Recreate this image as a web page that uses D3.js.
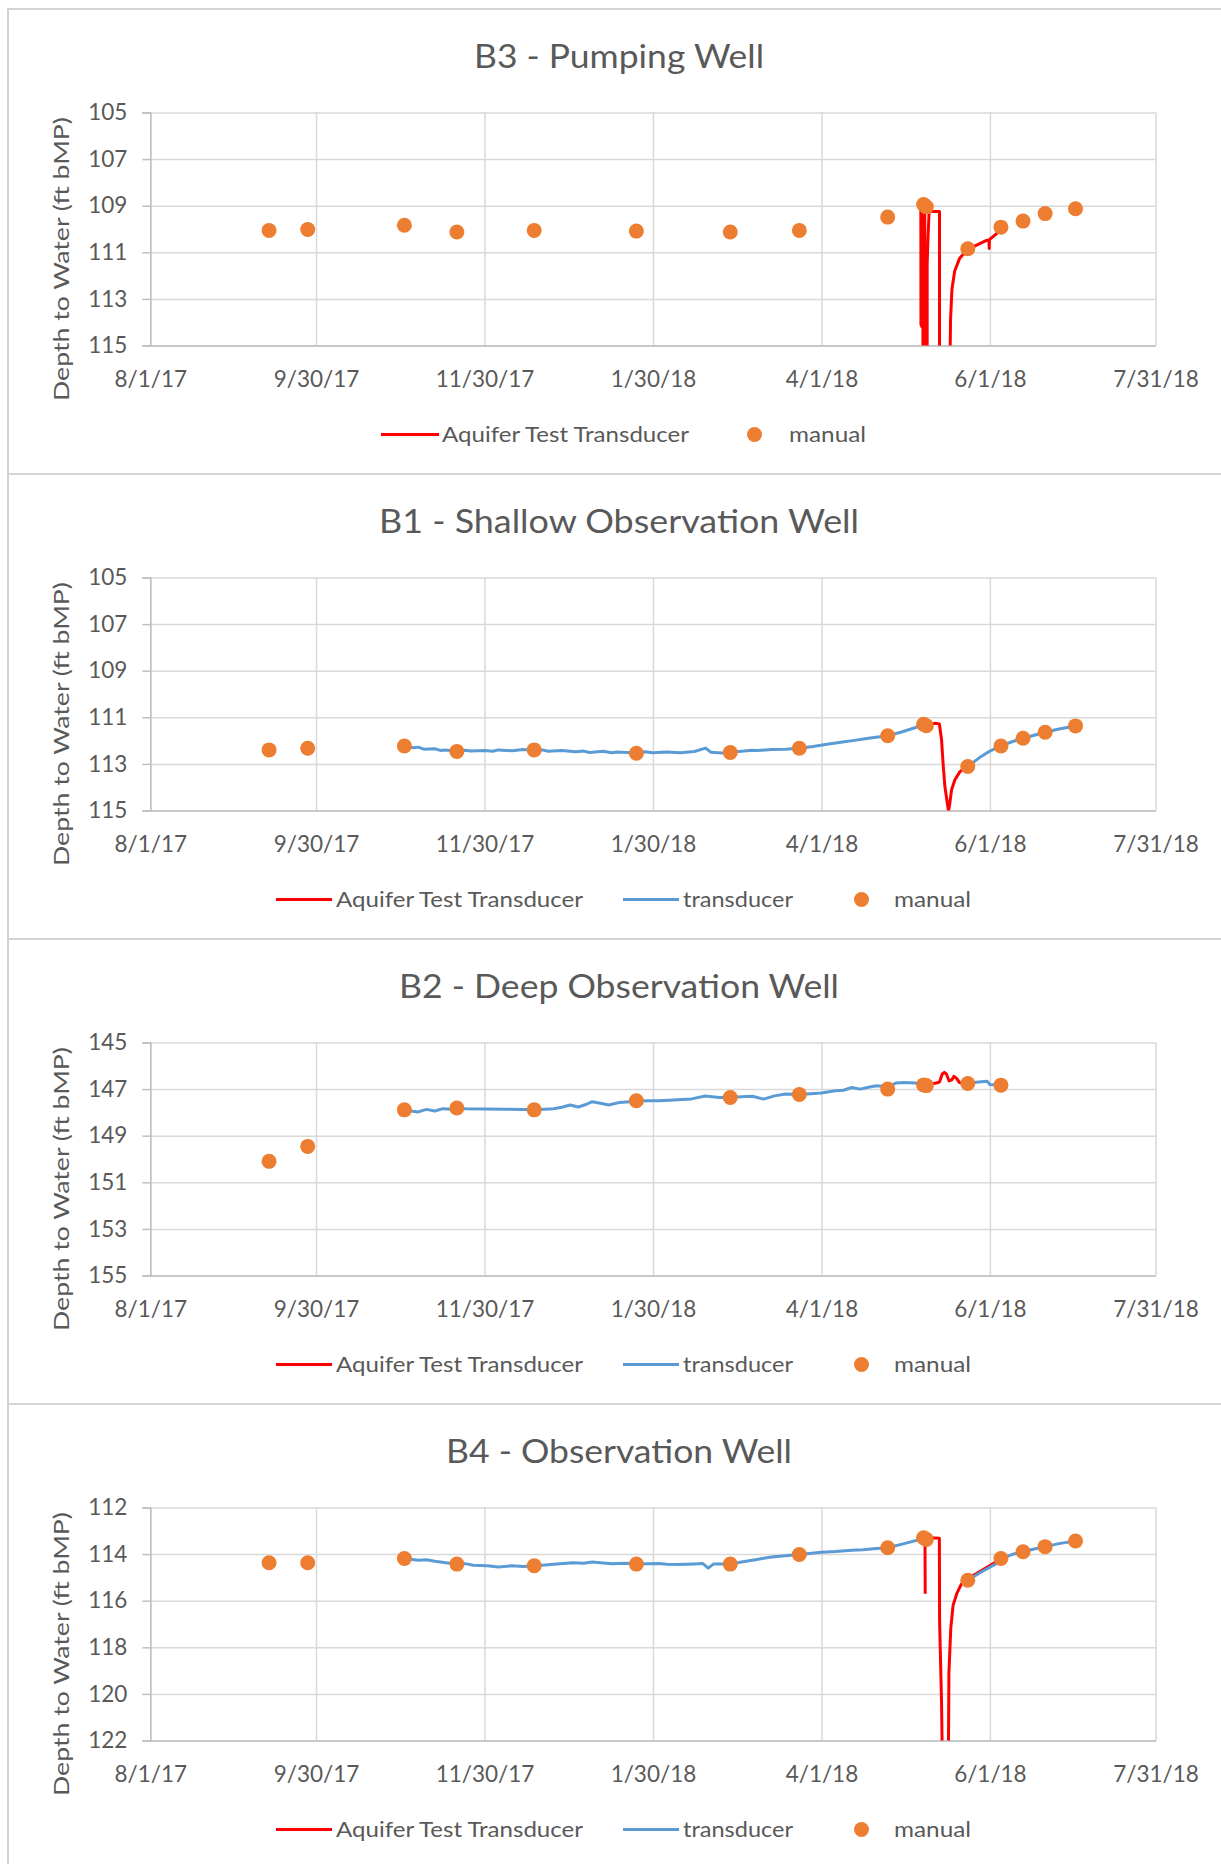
<!DOCTYPE html>
<html>
<head>
<meta charset="utf-8">
<script src="https://cdn.jsdelivr.net/npm/d3@7"></script>
<style>
  html, body { margin: 0; padding: 0; background: #fff; }
  svg { display: block; }
  text { font-family: Lato, "Open Sans", sans-serif; fill: #595959; }
</style>
</head>
<body>
<div id="vis"></div>
<script>
// ---- data ----
var xTickLabels = ["8/1/17", "9/30/17", "11/30/17", "1/30/18", "4/1/18", "6/1/18", "7/31/18"];

var b3Ticks = [105, 107, 109, 111, 113, 115];
var b1Ticks = [105, 107, 109, 111, 113, 115];
var b2Ticks = [145, 147, 149, 151, 153, 155];
var b4Ticks = [112, 114, 116, 118, 120, 122];

var manualDates = ["2017-09-13", "2017-09-27", "2017-11-01", "2017-11-20", "2017-12-18", "2018-01-24",
  "2018-02-27", "2018-03-24", "2018-04-25", "2018-05-08", "2018-05-09", "2018-05-24", "2018-06-05",
  "2018-06-13", "2018-06-21", "2018-07-02"];
var b3Manual = [110.06, 110.02, 109.84, 110.13, 110.06, 110.09, 110.13, 110.06, 109.49, 108.95, 109.05, 110.85, 109.92, 109.66, 109.34, 109.13];
var b1Manual = [112.40, 112.33, 112.23, 112.47, 112.40, 112.54, 112.51, 112.33, 111.79, 111.30, 111.36, 113.11, 112.23, 111.90, 111.64, 111.37];
var b2Manual = [150.10, 149.46, 147.89, 147.81, 147.89, 147.50, 147.36, 147.23, 147.00, 146.82, 146.85, 146.76, 146.83, null, null, null];
var b4Manual = [114.37, 114.37, 114.19, 114.43, 114.50, 114.43, 114.43, 114.02, 113.73, 113.30, 113.37, 115.12, 114.19, 113.90, 113.68, 113.44];

// aquifer test transducer (values beyond the axis run off the plot)
var b3Aquifer = [
  ["2018-05-07 00:00", 109.2], ["2018-05-07 01:00", 114.1], ["2018-05-07 10:00", 114.2],
  ["2018-05-07 11:00", 109.3], ["2018-05-07 18:00", 109.3], ["2018-05-07 19:00", 140],
  ["2018-05-08 04:00", 140], ["2018-05-08 05:00", 109.4], ["2018-05-08 10:00", 109.3],
  ["2018-05-08 11:00", 140], ["2018-05-09 06:00", 140], ["2018-05-09 07:00", 111.5],
  ["2018-05-09 14:00", 110.4], ["2018-05-10 00:00", 109.25], ["2018-05-13 18:00", 109.25],
  ["2018-05-13 19:00", 140], ["2018-05-17 11:00", 140], ["2018-05-17 13:00", 116.0],
  ["2018-05-17 18:00", 113.9], ["2018-05-18 06:00", 112.6], ["2018-05-19 06:00", 111.8],
  ["2018-05-21 00:00", 111.27], ["2018-05-23 12:00", 110.92], ["2018-05-27 00:00", 110.70],
  ["2018-05-30 18:00", 110.49], ["2018-05-31 16:00", 110.47], ["2018-05-31 18:00", 110.84],
  ["2018-05-31 20:00", 110.46], ["2018-06-03 10:00", 110.20], ["2018-06-05 06:00", 109.92]
];
var b1Aquifer = [
  ["2018-05-08 00:00", 111.33], ["2018-05-12 12:00", 111.26], ["2018-05-13 17:00", 111.29],
  ["2018-05-14 12:00", 111.97], ["2018-05-15 03:00", 113.11], ["2018-05-15 17:00", 113.97],
  ["2018-05-16 14:00", 114.68], ["2018-05-17 00:00", 115.05], ["2018-05-17 12:00", 114.68],
  ["2018-05-18 03:00", 114.11], ["2018-05-19 08:00", 113.68], ["2018-05-21 04:00", 113.33],
  ["2018-05-23 14:00", 113.11], ["2018-05-24 00:00", 113.11]
];
var b2Aquifer = [
  ["2018-05-08 12:00", 146.83], ["2018-05-12 12:00", 146.74], ["2018-05-13 18:00", 146.70],
  ["2018-05-14 18:00", 146.35], ["2018-05-15 12:00", 146.28], ["2018-05-16 06:00", 146.35],
  ["2018-05-17 06:00", 146.65], ["2018-05-18 06:00", 146.60], ["2018-05-19 00:00", 146.45],
  ["2018-05-20 00:00", 146.55], ["2018-05-21 00:00", 146.72], ["2018-05-23 12:00", 146.78]
];
var b4Aquifer = [
  ["2018-05-08 12:00", 113.40], ["2018-05-08 14:00", 115.70], ["2018-05-08 15:00", null],
  ["2018-05-10 06:00", 113.30], ["2018-05-13 17:00", 113.32], ["2018-05-13 19:00", 116.9],
  ["2018-05-14 12:00", 120.4], ["2018-05-14 22:00", 124], ["2018-05-16 22:00", 124],
  ["2018-05-17 04:00", 119.1], ["2018-05-17 20:00", 117.2], ["2018-05-18 16:00", 116.2],
  ["2018-05-20 00:00", 115.7], ["2018-05-21 18:00", 115.27], ["2018-05-23 14:00", 115.05],
  ["2018-05-27 00:00", 114.85], ["2018-06-03 00:00", 114.35]
];

// long-term transducer
var b1Transducer = [
  ["2017-11-01", 112.23], ["2017-11-04", 112.31], ["2017-11-06", 112.28], ["2017-11-08", 112.37],
  ["2017-11-12", 112.35], ["2017-11-14", 112.42], ["2017-11-16", 112.40], ["2017-11-20", 112.47],
  ["2017-11-23", 112.41], ["2017-11-25", 112.45], ["2017-11-30", 112.42], ["2017-12-03", 112.46],
  ["2017-12-05", 112.40], ["2017-12-10", 112.44], ["2017-12-14", 112.38], ["2017-12-18", 112.42],
  ["2017-12-21", 112.40], ["2017-12-23", 112.46], ["2017-12-28", 112.42], ["2018-01-02", 112.48],
  ["2018-01-05", 112.45], ["2018-01-07", 112.51], ["2018-01-12", 112.46], ["2018-01-15", 112.52],
  ["2018-01-17", 112.49], ["2018-01-24", 112.53], ["2018-01-27", 112.48], ["2018-01-30", 112.52],
  ["2018-02-04", 112.49], ["2018-02-09", 112.52], ["2018-02-14", 112.47], ["2018-02-18", 112.32],
  ["2018-02-20", 112.50], ["2018-02-24", 112.53], ["2018-02-27", 112.50], ["2018-03-04", 112.45],
  ["2018-03-07", 112.41], ["2018-03-09", 112.43], ["2018-03-14", 112.38], ["2018-03-19", 112.37],
  ["2018-03-24", 112.33], ["2018-03-29", 112.25], ["2018-04-03", 112.16], ["2018-04-08", 112.07],
  ["2018-04-13", 111.99], ["2018-04-18", 111.90], ["2018-04-25", 111.79], ["2018-04-30", 111.63],
  ["2018-05-04", 111.48], ["2018-05-08", 111.33], ["2018-05-16", null], ["2018-05-24", 113.11],
  ["2018-05-28", 112.75], ["2018-06-01", 112.45], ["2018-06-05", 112.23], ["2018-06-09", 112.05],
  ["2018-06-13", 111.90], ["2018-06-17", 111.77], ["2018-06-21", 111.64], ["2018-06-26", 111.50],
  ["2018-07-02", 111.37]
];
var b2Transducer = [
  ["2017-11-01", 147.89], ["2017-11-04", 147.95], ["2017-11-06", 147.98], ["2017-11-09", 147.87],
  ["2017-11-12", 147.94], ["2017-11-15", 147.84], ["2017-11-18", 147.86], ["2017-11-20", 147.81],
  ["2017-11-23", 147.84], ["2017-11-30", 147.85], ["2017-12-07", 147.86], ["2017-12-14", 147.88],
  ["2017-12-18", 147.89], ["2017-12-22", 147.86], ["2017-12-25", 147.84], ["2017-12-28", 147.78],
  ["2017-12-31", 147.68], ["2018-01-03", 147.77], ["2018-01-06", 147.65], ["2018-01-08", 147.54],
  ["2018-01-11", 147.61], ["2018-01-14", 147.68], ["2018-01-18", 147.57], ["2018-01-24", 147.52],
  ["2018-01-28", 147.50], ["2018-02-01", 147.50], ["2018-02-05", 147.48], ["2018-02-08", 147.46],
  ["2018-02-13", 147.42], ["2018-02-18", 147.30], ["2018-02-23", 147.36], ["2018-02-27", 147.36],
  ["2018-03-03", 147.33], ["2018-03-07", 147.31], ["2018-03-11", 147.43], ["2018-03-15", 147.29],
  ["2018-03-19", 147.21], ["2018-03-24", 147.23], ["2018-03-28", 147.20], ["2018-04-01", 147.17],
  ["2018-04-06", 147.07], ["2018-04-09", 147.05], ["2018-04-12", 146.93], ["2018-04-15", 147.00],
  ["2018-04-18", 146.92], ["2018-04-21", 146.86], ["2018-04-25", 146.90], ["2018-04-28", 146.74],
  ["2018-05-01", 146.72], ["2018-05-05", 146.74], ["2018-05-08", 146.83], ["2018-05-15", null],
  ["2018-05-24", 146.76], ["2018-05-27", 146.71], ["2018-05-31", 146.66], ["2018-06-01", 146.80],
  ["2018-06-05", 146.83]
];
var b4Transducer = [
  ["2017-11-01", 114.19], ["2017-11-06", 114.26], ["2017-11-09", 114.24], ["2017-11-12", 114.31],
  ["2017-11-16", 114.37], ["2017-11-20", 114.43], ["2017-11-23", 114.41], ["2017-11-26", 114.48],
  ["2017-12-01", 114.50], ["2017-12-05", 114.55], ["2017-12-10", 114.50], ["2017-12-14", 114.53],
  ["2017-12-18", 114.50], ["2017-12-22", 114.47], ["2017-12-25", 114.44], ["2018-01-01", 114.37],
  ["2018-01-05", 114.39], ["2018-01-08", 114.34], ["2018-01-12", 114.38], ["2018-01-15", 114.41],
  ["2018-01-20", 114.39], ["2018-01-24", 114.43], ["2018-02-01", 114.40], ["2018-02-04", 114.44],
  ["2018-02-08", 114.45], ["2018-02-14", 114.42], ["2018-02-17", 114.40], ["2018-02-19", 114.60],
  ["2018-02-21", 114.42], ["2018-02-27", 114.43], ["2018-03-03", 114.34], ["2018-03-07", 114.26],
  ["2018-03-14", 114.12], ["2018-03-24", 114.02], ["2018-04-01", 113.92], ["2018-04-06", 113.89],
  ["2018-04-12", 113.83], ["2018-04-16", 113.81], ["2018-04-21", 113.76], ["2018-04-25", 113.73],
  ["2018-05-02", 113.52], ["2018-05-08", 113.33], ["2018-05-16", null], ["2018-05-24", 115.12],
  ["2018-05-29", 114.76], ["2018-06-03", 114.43], ["2018-06-05", 114.19], ["2018-06-09", 114.02],
  ["2018-06-13", 113.90], ["2018-06-17", 113.78], ["2018-06-21", 113.68], ["2018-06-26", 113.55],
  ["2018-07-02", 113.44]
];

var wells = [
  { title: "B3 - Pumping Well", titleLen: 290, ticks: b3Ticks, aquifer: b3Aquifer, transducer: null, manual: b3Manual },
  { title: "B1 - Shallow Observation Well", titleLen: 480, ticks: b1Ticks, aquifer: b1Aquifer, transducer: b1Transducer, manual: b1Manual },
  { title: "B2 - Deep Observation Well", titleLen: 440, ticks: b2Ticks, aquifer: b2Aquifer, transducer: b2Transducer, manual: b2Manual },
  { title: "B4 - Observation Well", titleLen: 346, ticks: b4Ticks, aquifer: b4Aquifer, transducer: b4Transducer, manual: b4Manual }
];

// ---- drawing ----
var W = 1221, H = 1864;
var panelH = 465, panelTop0 = 9;
var plotL = 150.3, plotR = 1155.6, plotTopOff = 103.5, plotH = 233;
var RED = "#ff0000", BLUE = "#5b9bd5", ORANGE = "#ed7d31";

var parseTick = d3.timeParse("%m/%d/%y");
var parseDay = d3.timeParse("%Y-%m-%d");
var parseTime = d3.timeParse("%Y-%m-%d %H:%M");
function parseAny(s) { return s.length > 10 ? parseTime(s) : parseDay(s); }

var tickDates = xTickLabels.map(parseTick);
var x = d3.scaleTime()
  .domain([tickDates[0], tickDates[tickDates.length - 1]])
  .range([plotL, plotR]);

var svg = d3.select("#vis").append("svg")
  .attr("width", W)
  .attr("height", H);

svg.append("rect").attr("width", W).attr("height", H).attr("fill", "#fff");

wells.forEach(function (w, i) {
  var top = panelTop0 + i * panelH;
  var pTop = top + plotTopOff, pBot = pTop + plotH;

  var g = svg.append("g");

  // panel frame
  g.append("rect")
    .attr("x", 8).attr("y", top)
    .attr("width", W + 10).attr("height", panelH)
    .attr("fill", "none")
    .attr("stroke", "#d4d4d4")
    .attr("stroke-width", 2);

  var y = d3.scaleLinear()
    .domain([w.ticks[0], w.ticks[w.ticks.length - 1]])
    .range([pTop, pBot]);

  // vertical gridlines
  g.append("g")
    .attr("transform", "translate(0," + pBot + ")")
    .call(d3.axisBottom(x).tickValues(tickDates).tickSize(-plotH).tickFormat(""))
    .call(function (a) {
      a.select(".domain").remove();
      a.selectAll("line").attr("stroke", "#d9d9d9").attr("stroke-width", 1.5);
    });

  // horizontal gridlines
  g.append("g")
    .attr("transform", "translate(" + plotL + ",0)")
    .call(d3.axisLeft(y).tickValues(w.ticks).tickSize(-(plotR - plotL)).tickFormat(""))
    .call(function (a) {
      a.select(".domain").remove();
      a.selectAll("line").attr("stroke", "#d9d9d9").attr("stroke-width", 1.5);
    });

  // left axis, ticks and labels
  g.append("g")
    .attr("transform", "translate(" + plotL + ",0)")
    .call(d3.axisLeft(y).tickValues(w.ticks).tickSize(8).tickPadding(15).tickFormat(d3.format("d")))
    .call(function (a) {
      a.select(".domain").attr("stroke", "#bfbfbf").attr("stroke-width", 1.5);
      a.selectAll("line").attr("stroke", "#bfbfbf").attr("stroke-width", 1.5);
      a.selectAll("text")
        .attr("fill", "#595959")
        .style("font-size", "22.5px")
        .style("font-family", "Lato");
    });

  // bottom axis
  g.append("g")
    .attr("transform", "translate(0," + pBot + ")")
    .call(d3.axisBottom(x).tickValues(tickDates).tickSize(0).tickFormat(function (d, k) { return xTickLabels[k]; }))
    .call(function (a) {
      a.select(".domain").attr("stroke", "#bfbfbf").attr("stroke-width", 1.5);
      a.selectAll("text")
        .attr("y", 41).attr("dy", null)
        .attr("fill", "#595959")
        .style("font-size", "22.5px")
        .style("font-family", "Lato");
    });

  // title
  g.append("text")
    .attr("x", 619).attr("y", top + 59)
    .attr("text-anchor", "middle")
    .attr("textLength", w.titleLen)
    .attr("lengthAdjust", "spacingAndGlyphs")
    .style("font-size", "33px")
    .text(w.title);

  // y label
  g.append("text")
    .attr("transform", "translate(69," + (top + 250) + ") rotate(-90)")
    .attr("text-anchor", "middle")
    .attr("textLength", 284)
    .attr("lengthAdjust", "spacingAndGlyphs")
    .style("font-size", "21.5px")
    .text("Depth to Water (ft bMP)");

  // clip to plot area
  var clipId = "clip" + i;
  svg.append("clipPath").attr("id", clipId)
    .append("rect")
    .attr("x", plotL).attr("y", pTop - 20)
    .attr("width", plotR - plotL).attr("height", plotH + 20);

  var line = d3.line()
    .defined(function (d) { return d[1] != null; })
    .x(function (d) { return x(parseAny(d[0])); })
    .y(function (d) { return y(d[1]); });

  var marks = g.append("g").attr("clip-path", "url(#" + clipId + ")");

  marks.append("path")
    .datum(w.aquifer)
    .attr("d", line)
    .attr("fill", "none")
    .attr("stroke", RED)
    .attr("stroke-width", 3)
    .attr("stroke-linejoin", "round");

  if (w.transducer) {
    marks.append("path")
      .datum(w.transducer)
      .attr("d", line)
      .attr("fill", "none")
      .attr("stroke", BLUE)
      .attr("stroke-width", 3)
      .attr("stroke-linejoin", "round");
  }

  var pts = manualDates.map(function (d, k) { return [d, w.manual[k]]; })
    .filter(function (d) { return d[1] != null; });

  g.append("g").selectAll("circle")
    .data(pts)
    .enter()
    .append("circle")
    .attr("cx", function (d) { return x(parseAny(d[0])); })
    .attr("cy", function (d) { return y(d[1]); })
    .attr("r", 7.5)
    .attr("fill", ORANGE);

  // legend
  var ly = top + 425.5;
  var leg = g.append("g");
  var items;
  if (w.transducer) {
    items = [
      { type: "line", color: RED, x1: 276, x2: 332, tx: 336, label: "Aquifer Test Transducer", len: 247 },
      { type: "line", color: BLUE, x1: 623, x2: 679, tx: 683, label: "transducer", len: 110 },
      { type: "dot", color: ORANGE, cx: 861.5, tx: 894, label: "manual", len: 77 }
    ];
  } else {
    items = [
      { type: "line", color: RED, x1: 381, x2: 439, tx: 442, label: "Aquifer Test Transducer", len: 247 },
      { type: "dot", color: ORANGE, cx: 754.5, tx: 789, label: "manual", len: 77 }
    ];
  }
  items.forEach(function (it) {
    if (it.type === "line") {
      leg.append("line")
        .attr("x1", it.x1).attr("x2", it.x2)
        .attr("y1", ly).attr("y2", ly)
        .attr("stroke", it.color).attr("stroke-width", 3);
    } else {
      leg.append("circle")
        .attr("cx", it.cx).attr("cy", ly).attr("r", 7.5)
        .attr("fill", it.color);
    }
    leg.append("text")
      .attr("x", it.tx).attr("y", ly + 7.5)
      .attr("textLength", it.len)
      .attr("lengthAdjust", "spacingAndGlyphs")
      .style("font-size", "21px")
      .text(it.label);
  });
});
</script>
</body>
</html>
